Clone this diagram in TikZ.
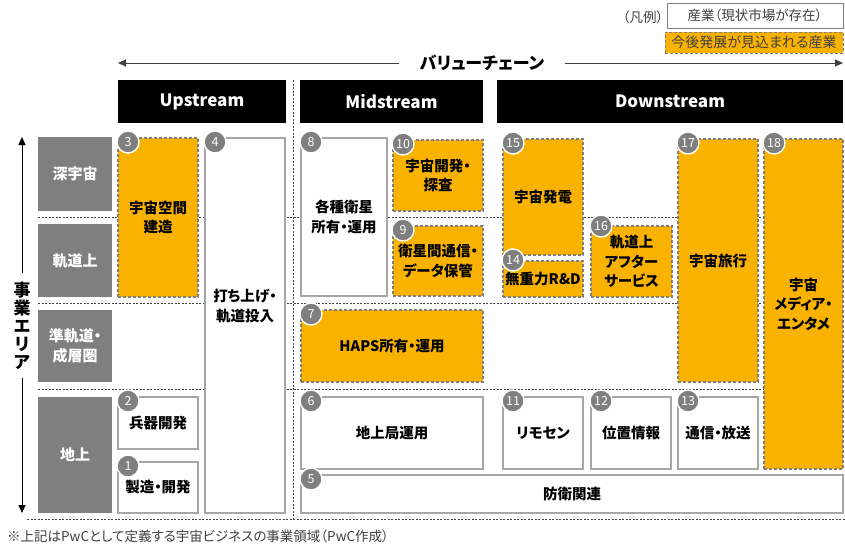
\documentclass[tikz,border=0pt]{standalone}
\usepackage{fontspec}
\newfontfamily\jp[RawFeature=+palt]{Noto Sans CJK JP}
\usetikzlibrary{arrows.meta}
\definecolor{org}{RGB}{249,178,0}
\definecolor{gry}{RGB}{127,127,127}
\definecolor{bgry}{RGB}{166,166,166}
\definecolor{dgry}{RGB}{64,64,64}
\newcommand\bx[7]{%
  \node[#2, minimum width={(#5)-(#3)}, minimum height={(#6)-(#4)}] (#1) at ({((#3)+(#5))/2},{((#4)+(#6))/2}) {#7};}
\newcommand\nm[4][-4pt]{\node[numc] (#2) at ([shift={(10pt,#1)}]#3.north west) {#4};}
\tikzset{
  box/.style={draw=bgry, line width=1.2pt, fill=white, inner sep=0pt, outer sep=0pt, align=center,
    text=black, font=\jp\bfseries\fontsize{14.5}{19.5}\selectfont},
  obox/.style={box, draw=gry, fill=org, dash pattern=on 3pt off 2pt},
  lbl/.style={fill=gry, inner sep=0pt, outer sep=0pt, align=center, text=white,
    font=\jp\bfseries\fontsize{15}{20}\selectfont},
  hdr/.style={fill=black, inner sep=0pt, outer sep=0pt, text=white,
    font=\jp\bfseries\fontsize{17}{20}\selectfont},
  numc/.style={circle, fill=gry, draw=white, line width=1.4pt, minimum size=22pt, inner sep=0pt,
    text=white, font=\jp\fontsize{12.5}{12.5}\selectfont},
  sep/.style={dgry, line width=0.8pt, dash pattern=on 2pt off 1.5pt},
  arr/.style={dgry, line width=1pt, -{Triangle[length=8pt,width=7pt]}},
}
\begin{document}
\begin{tikzpicture}[x=1pt,y=-1pt]
\useasboundingbox (0,0) rectangle (845,544);
\fill[white] (0,0) rectangle (845,544);

% legend
\node[font=\jp\fontsize{13.5}{15}\selectfont, text=dgry] (lgt) at (643,17) {（凡例）};
\bx{lg1}{box, draw=gry, line width=0.8pt, font=\jp\fontsize{13.5}{15}\selectfont, text=dgry}{667}{3}{843}{28}{産業（現状市場が存在）}
\bx{lg2}{obox, line width=0.8pt, font=\jp\fontsize{14}{15}\selectfont, text=dgry}{665}{32}{843}{53}{今後発展が見込まれる産業}

% value chain arrow
\node[minimum width=166pt, inner sep=0pt, font=\jp\bfseries\fontsize{17}{20}\selectfont] (vc) at (482,63) {バリューチェーン};
\coordinate (vl) at (118,63);
\coordinate (vr) at (843,63);
\draw[arr] (vc.west) -- (vl);
\draw[arr] (vc.east) -- (vr);

% headers
\bx{hup}{hdr}{118}{80}{286}{123}{Upstream}
\bx{hmid}{hdr}{300}{80}{483}{123}{Midstream}
\bx{hdown}{hdr}{497}{80}{843}{123}{Downstream}

% separators
\draw[sep] (38,217) -- (843,217);
\draw[sep] (38,303) -- (843,303);
\draw[sep] (38,389) -- (843,389);
\draw[sep] (27,519) -- (845,519);
\draw[sep] (293,80) -- (293,519);

% axis
\node[minimum height=105pt, inner sep=0pt, align=center, font=\jp\bfseries\fontsize{17}{18}\selectfont] (ax) at (22,325.5) {事\\業\\エ\\リ\\ア};
\coordinate (axt) at (22,137);
\coordinate (axb) at (22,513);
\draw[arr, black] (ax.north) -- (axt);
\draw[arr, black] (ax.south) -- (axb);

% area labels
\bx{l1}{lbl}{38}{137}{112}{211}{深宇宙}
\bx{l2}{lbl}{38}{224}{112}{297}{軌道上}
\bx{l3}{lbl}{38}{310}{112}{382}{準軌道・\\成層圏}
\bx{l4}{lbl}{38}{397}{112}{513}{地上}

% upstream
\bx{b3}{obox}{118}{138}{198}{297}{宇宙空間\\建造}
\bx{b4}{box}{205}{138}{285}{513}{}
\node[align=center, inner sep=0pt, font=\jp\bfseries\fontsize{14.5}{19.5}\selectfont] (t4) at (245,306) {打ち上げ・\\軌道投入};
\bx{b2}{box}{118}{397}{198}{449}{兵器開発}
\bx{b1}{box}{118}{462}{198}{513}{製造・開発}

% midstream
\bx{b8}{box}{301}{138}{387}{296}{各種衛星\\所有・運用}
\bx{b10}{obox}{393}{140}{483}{211}{宇宙開発・\\探査}
\bx{b9}{obox}{393}{226}{483}{296}{衛星間通信・\\データ保管}
\bx{b7}{obox}{301}{310}{483}{382}{HAPS所有・運用}
\bx{b6}{box}{301}{397}{483}{469}{地上局運用}
\bx{b5}{box}{301}{475}{843}{513}{防衛関連}

% downstream
\bx{b15}{obox}{503}{139}{583}{255}{宇宙発電}
\bx{b14}{obox}{503}{261}{583}{297}{\raisebox{-2pt}{無重力R\&D}}
\bx{b16}{obox}{591}{226}{672}{297}{軌道上\\アフター\\サービス}
\bx{b17}{obox}{678}{139}{758}{382}{宇宙旅行}
\bx{b18}{obox}{764}{139}{843}{469}{宇宙\\メディア・\\エンタメ}
\bx{b11}{box}{503}{397}{583}{469}{リモセン}
\bx{b12}{box}{591}{397}{671}{469}{位置情報}
\bx{b13}{box}{678}{397}{758}{469}{通信・放送}

% numbers
\nm{n1}{b1}{1}
\nm{n2}{b2}{2}
\nm{n3}{b3}{3}
\nm{n4}{b4}{4}
\nm{n5}{b5}{5}
\nm{n6}{b6}{6}
\nm{n7}{b7}{7}
\nm{n8}{b8}{8}
\nm{n9}{b9}{9}
\nm{n10}{b10}{10}
\nm{n11}{b11}{11}
\nm{n12}{b12}{12}
\nm{n13}{b13}{13}
\nm[1pt]{n14}{b14}{14}
\nm{n15}{b15}{15}
\nm[0pt]{n16}{b16}{16}
\nm{n17}{b17}{17}
\nm{n18}{b18}{18}

% footnote
\node[anchor=west, inner sep=0pt, text=dgry, font=\jp\fontsize{13.5}{15}\selectfont] (fn) at (7,536) {※上記はPwCとして定義する宇宙ビジネスの事業領域（PwC作成）};
\end{tikzpicture}
\end{document}
